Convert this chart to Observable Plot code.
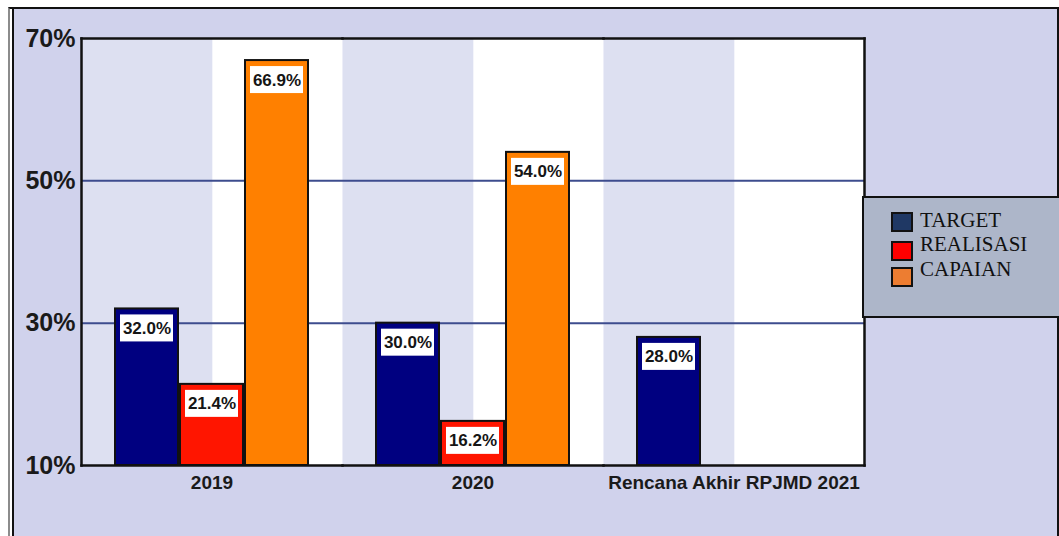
<!DOCTYPE html>
<html>
<head>
<meta charset="utf-8">
<script src="https://cdn.jsdelivr.net/npm/d3@7"></script>
<script src="https://cdn.jsdelivr.net/npm/@observablehq/plot@0.6"></script>
<style>
  html, body { margin: 0; padding: 0; background: #ffffff; }
  #wrap { position: relative; width: 1059px; height: 536px; overflow: hidden; background: #ffffff; }
  #outer { position: absolute; left: 8px; top: 7px; width: 1047px; height: 540px;
           border-left: 2px solid #8c8c8c; border-top: 2px solid #111; border-right: 2px solid #111;
           background: #ffffff; }
  #inner { position: absolute; left: 2px; top: 0; right: 0; bottom: 0;
           border-left: 2px solid #111; background: #d0d2ec; }
  #chart { position: absolute; left: 0; top: 0; }
  #legend { position: absolute; left: 862px; top: 196px; width: 200px; height: 122px;
            background: #adb6c9; border: 2px solid #111; box-sizing: border-box;
            font-family: "Liberation Serif", "Times New Roman", serif; font-size: 21px; color: #111; }
  .sw { position: absolute; left: 27px; width: 18px; height: 16px; border: 2px solid #111; }
  .lt { position: absolute; left: 56px; line-height: 20px; white-space: nowrap; }
</style>
</head>
<body>
<div id="wrap">
  <div id="outer"><div id="inner"></div></div>
  <div id="chart"></div>
  <div id="legend"></div>
</div>
<script>
// ---- data ----
const categories = ["2019", "2020", "Rencana Akhir RPJMD 2021"];
const series = ["TARGET", "REALISASI", "CAPAIAN"];
const target = [32.0, 30.0, 28.0];
const realisasi = [21.4, 16.2, null];
const capaian = [66.9, 54.0, null];
const yTicks = [10, 30, 50, 70];

const barColors = ["#000080", "#ff1500", "#ff8000"];
const legendColors = ["#1f3864", "#ff0000", "#ed7d31"];

const valuesBySeries = [target, realisasi, capaian];
const data = [];
categories.forEach((c, ci) => {
  series.forEach((s, si) => {
    const v = valuesBySeries[si][ci];
    if (v != null) data.push({cat: c, series: s, value: v});
  });
});

const W = 1059, H = 536;
const mL = 80, mT = 38, mR = 194, mB = 71;
const plotW = W - mL - mR;
const halfCell = plotW / categories.length / 2;
const font = "'Liberation Sans', Arial, sans-serif";

const chart = Plot.plot({
  width: W,
  height: H,
  marginLeft: mL, marginTop: mT, marginRight: mR, marginBottom: mB,
  style: {background: "transparent", fontFamily: font, color: "#1a1a1a", overflow: "visible"},
  fx: {domain: categories, padding: 0, label: null},
  x: {domain: series, paddingInner: 0.03, paddingOuter: 0.5, axis: null},
  y: {domain: [yTicks[0], yTicks[yTicks.length - 1]], label: null},
  color: {domain: series, range: barColors},
  marks: [
    Plot.frame({fill: "#dde0f1", stroke: null}),
    Plot.frame({fill: "#ffffff", stroke: null, insetLeft: halfCell}),
    Plot.ruleY(yTicks.slice(1, -1), {stroke: "#3d4c8e", strokeWidth: 2}),
    Plot.barY(data, {fx: "cat", x: "series", y1: yTicks[0], y2: "value", fill: "series", stroke: "#111", strokeWidth: 2}),
    Plot.barY(data, {fx: "cat", x: "series", y1: "value", y2: "value", fill: "#ffffff",
      insetTop: 6, insetBottom: -33, insetLeft: 5, insetRight: 5}),
    Plot.text(data, {fx: "cat", x: "series", y: "value", text: d => d.value.toFixed(1) + "%",
      dy: 19.5, fontSize: 17, fontWeight: "bold", fill: "#151515"}),
    Plot.frame({anchor: "top", stroke: "#111", strokeWidth: 2.5}),
    Plot.frame({anchor: "bottom", stroke: "#111", strokeWidth: 2.5}),
    Plot.frame({anchor: "left", facetAnchor: "left", stroke: "#111", strokeWidth: 2.5}),
    Plot.frame({anchor: "right", facetAnchor: "right", stroke: "#111", strokeWidth: 2.5}),
    Plot.axisY(yTicks, {tickSize: 0, tickPadding: 6, tickFormat: d => d + "%", fontSize: 25, fontWeight: "bold", label: null}),
    Plot.axisFx({anchor: "bottom", tickSize: 0, tickPadding: 10, fontSize: 19, fontWeight: "bold", label: null})
  ]
});
document.getElementById("chart").appendChild(chart);

// legend
const legend = document.getElementById("legend");
const swTops = [14, 43, 69];
const txTops = [12, 36, 61];
series.forEach((s, i) => {
  const sw = document.createElement("div");
  sw.className = "sw";
  sw.style.top = swTops[i] + "px";
  sw.style.background = legendColors[i];
  legend.appendChild(sw);
  const t = document.createElement("div");
  t.className = "lt";
  t.style.top = txTops[i] + "px";
  t.textContent = s;
  legend.appendChild(t);
});
</script>
</body>
</html>
